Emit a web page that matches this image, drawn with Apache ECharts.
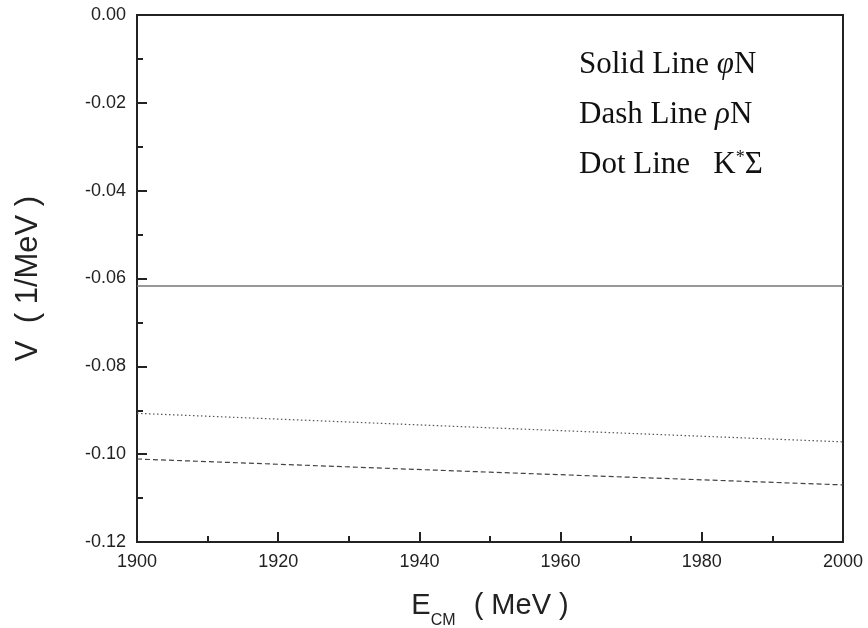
<!DOCTYPE html>
<html>
<head>
<meta charset="utf-8">
<script src="https://cdn.jsdelivr.net/npm/echarts@6/dist/echarts.min.js"></script>
<style>
  html, body { margin: 0; padding: 0; background: #fff; }
  #chart { width: 868px; height: 628px; }
</style>
</head>
<body>
<div id="chart"></div>
<script>
var energy = [1900, 1950, 2000];
var solidPhiN = [-0.0617, -0.0617, -0.0617];
var dashRhoN = [-0.1011, -0.1041, -0.1070];
var dotKSigma = [-0.0907, -0.0940, -0.0972];
var legendLines = ['Solid Line', 'Dash Line', 'Dot Line'];

function pairs(xs, ys) {
  return xs.map(function (x, i) { return [x, ys[i]]; });
}

var myChart = echarts.init(document.getElementById('chart'), null, { renderer: 'canvas' });

var tickFont = { color: '#222', fontFamily: 'Liberation Sans', fontSize: 18 };
var frame = { show: true, onZero: false, lineStyle: { color: '#222', width: 2 } };
var tickStyle = { color: '#222', width: 2 };
var serif = '31px "Liberation Serif"';

var option = {
  animation: false,
  backgroundColor: '#fff',
  grid: {
    left: 137, right: 25, top: 15, bottom: 86,
    outerBoundsMode: 'none', containLabel: false,
    show: true, borderColor: '#222', borderWidth: 2, backgroundColor: 'transparent'
  },
  xAxis: {
    type: 'value', min: 1900, max: 2000, interval: 20,
    axisLine: frame,
    axisTick: { inside: true, length: 10, lineStyle: tickStyle },
    minorTick: { show: true, splitNumber: 2, length: 6, lineStyle: tickStyle },
    axisLabel: Object.assign({ margin: 11, formatter: function (v) { return String(v); } }, tickFont),
    splitLine: { show: false },
    name: '{e|E}{sub|CM}{e|  ( MeV )}',
    nameLocation: 'middle', nameGap: 41,
    nameTextStyle: {
      rich: {
        e: { fontFamily: 'Liberation Sans', fontSize: 29, color: '#222' },
        sub: { fontFamily: 'Liberation Sans', fontSize: 16, color: '#222', verticalAlign: 'bottom', padding: [30, 2, 0, 0] }
      }
    }
  },
  yAxis: {
    type: 'value', min: -0.12, max: 0, interval: 0.02,
    axisLine: frame,
    axisTick: { inside: true, length: 10, lineStyle: tickStyle },
    minorTick: { show: true, splitNumber: 2, length: 6, lineStyle: tickStyle },
    axisLabel: Object.assign({ margin: 11, formatter: function (v) { return v.toFixed(2); } }, tickFont),
    splitLine: { show: false },
    name: 'V  ( 1/MeV )',
    nameLocation: 'middle', nameGap: 93, nameRotate: 90,
    nameTextStyle: { fontFamily: 'Liberation Sans', fontSize: 31, color: '#222' }
  },
  series: [{
    name: 'phiN', type: 'line', data: pairs(energy, solidPhiN), symbol: 'none',
    lineStyle: { color: '#777', width: 1.5, type: 'solid' }
  }, {
    name: 'rhoN', type: 'line', data: pairs(energy, dashRhoN), symbol: 'none',
    lineStyle: { color: '#444', width: 1.2, type: [5, 3] }
  }, {
    name: 'KSigma', type: 'line', data: pairs(energy, dotKSigma), symbol: 'none',
    lineStyle: { color: '#555', width: 1.2, type: [1.5, 2.5] }
  }],
  graphic: [{
    type: 'text', left: 579, top: 49,
    style: { text: legendLines[0] + ' {g|\u03c6}N', font: serif, fill: '#111',
      rich: { g: { font: 'italic ' + serif, fill: '#111' } } }
  }, {
    type: 'text', left: 579, top: 99,
    style: { text: legendLines[1] + ' {g|\u03c1}N', font: serif, fill: '#111',
      rich: { g: { font: 'italic ' + serif, fill: '#111' } } }
  }, {
    type: 'text', left: 579, top: 149,
    style: { text: legendLines[2] + '   K{s|*}\u03a3', font: serif, fill: '#111',
      rich: { s: { font: '18px "Liberation Serif"', fill: '#111', verticalAlign: 'top', padding: [0, 0, 13, 0] } } }
  }]
};

myChart.setOption(option);
</script>
</body>
</html>
